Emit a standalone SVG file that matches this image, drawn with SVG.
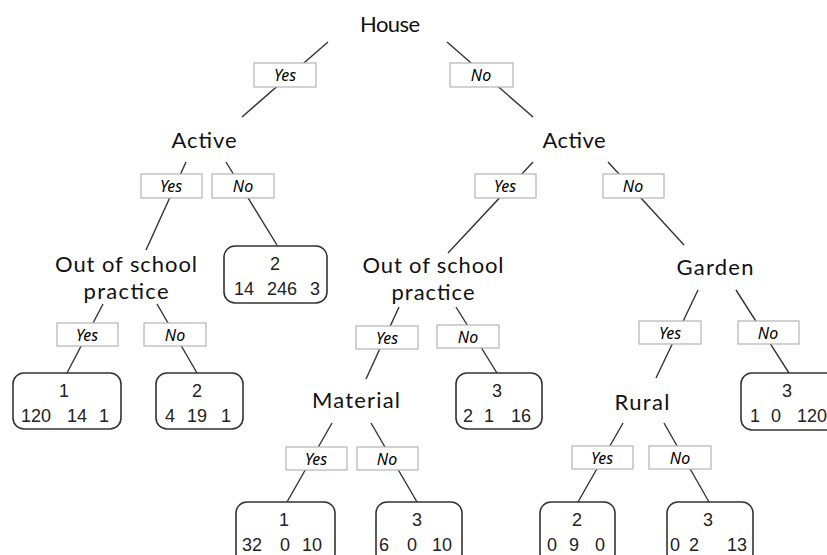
<svg xmlns="http://www.w3.org/2000/svg" width="827" height="555" viewBox="0 0 827 555">
<style>
.node{font-family:Lato,"Noto Sans",sans-serif;font-size:22px;fill:#111;text-anchor:middle}
.lbl rect{fill:#fff;stroke:#b4b4b4;stroke-width:1.2}
.lbl text{font-family:"Noto Sans","Open Sans",sans-serif;font-style:italic;font-size:16px;fill:#000;text-anchor:middle}
.leaf rect{fill:#fff;stroke:#333;stroke-width:1.6}
.leaf text{font-family:"Liberation Sans",Arial,sans-serif;font-size:18px;fill:#222;text-anchor:middle}
.edges line{stroke:#333;stroke-width:1.4}
</style>
<rect width="827" height="555" fill="#fff"/>
<g id="connectors" class="edges">
<line x1="328" y1="42" x2="242" y2="117"/>
<line x1="447" y1="42" x2="533" y2="117"/>
<line x1="186" y1="162" x2="146" y2="250"/>
<line x1="226" y1="162" x2="277" y2="245"/>
<line x1="533" y1="162" x2="448" y2="253"/>
<line x1="608" y1="162" x2="684" y2="245"/>
<line x1="103" y1="304" x2="67" y2="373"/>
<line x1="157" y1="304" x2="197" y2="373"/>
<line x1="399" y1="307" x2="366" y2="379"/>
<line x1="456" y1="307" x2="497" y2="373"/>
<line x1="698" y1="290" x2="656" y2="378"/>
<line x1="736" y1="290" x2="789" y2="373"/>
<line x1="332" y1="423" x2="287" y2="502"/>
<line x1="371" y1="423" x2="417" y2="502"/>
<line x1="623" y1="423" x2="578" y2="502"/>
<line x1="664" y1="423" x2="709" y2="502"/>
</g>
<g id="edge-labels">
<g class="lbl"><rect x="254" y="63" width="62" height="24"/><text x="285" y="81">Yes</text></g>
<g class="lbl"><rect x="450" y="63" width="63" height="24"/><text x="481" y="81">No</text></g>
<g class="lbl"><rect x="141" y="174" width="61" height="24"/><text x="171" y="192">Yes</text></g>
<g class="lbl"><rect x="212" y="174" width="62" height="24"/><text x="243" y="192">No</text></g>
<g class="lbl"><rect x="475" y="174" width="61" height="24"/><text x="505" y="192">Yes</text></g>
<g class="lbl"><rect x="603" y="174" width="61" height="24"/><text x="633" y="192">No</text></g>
<g class="lbl"><rect x="57" y="323" width="61" height="23"/><text x="87" y="341">Yes</text></g>
<g class="lbl"><rect x="144" y="323" width="62" height="23"/><text x="175" y="341">No</text></g>
<g class="lbl"><rect x="356" y="326" width="62" height="23"/><text x="387" y="344">Yes</text></g>
<g class="lbl"><rect x="437" y="325" width="62" height="23"/><text x="468" y="343">No</text></g>
<g class="lbl"><rect x="639" y="321" width="62" height="23"/><text x="670" y="339">Yes</text></g>
<g class="lbl"><rect x="738" y="321" width="61" height="23"/><text x="768" y="339">No</text></g>
<g class="lbl"><rect x="286" y="447" width="61" height="23"/><text x="316" y="465">Yes</text></g>
<g class="lbl"><rect x="357" y="447" width="61" height="23"/><text x="387" y="465">No</text></g>
<g class="lbl"><rect x="572" y="446" width="61" height="23"/><text x="602" y="464">Yes</text></g>
<g class="lbl"><rect x="649" y="446" width="62" height="23"/><text x="680" y="464">No</text></g>
</g>
<g id="n-house"><text class="node" x="390" y="32" textLength="60">House</text></g>
<g id="n-active-left"><text class="node" x="204" y="148" textLength="65">Active</text></g>
<g id="n-active-right"><text class="node" x="574" y="148" textLength="63">Active</text></g>
<g id="n-oosp-left"><text class="node" x="126" y="272" textLength="142">Out of school</text><text class="node" x="126" y="299" textLength="85">practice</text></g>
<g id="n-oosp-right"><text class="node" x="433" y="273" textLength="141">Out of school</text><text class="node" x="433" y="300" textLength="83">practice</text></g>
<g id="n-garden"><text class="node" x="715" y="275" textLength="77">Garden</text></g>
<g id="n-material"><text class="node" x="356" y="408" textLength="88">Material</text></g>
<g id="n-rural"><text class="node" x="642" y="410" textLength="55">Rural</text></g>
<g id="leaf-1" class="leaf"><rect x="13" y="373" width="108" height="56" rx="11"/><text x="64" y="397">1</text><text y="422"><tspan x="36">120</tspan><tspan x="77">14</tspan><tspan x="104">1</tspan></text></g>
<g id="leaf-2" class="leaf"><rect x="156" y="373" width="87" height="56" rx="11"/><text x="197" y="397">2</text><text y="422"><tspan x="170">4</tspan><tspan x="197">19</tspan><tspan x="226">1</tspan></text></g>
<g id="leaf-3" class="leaf"><rect x="224" y="246" width="103" height="57" rx="11"/><text x="275" y="270">2</text><text y="295"><tspan x="244">14</tspan><tspan x="282">246</tspan><tspan x="315">3</tspan></text></g>
<g id="leaf-4" class="leaf"><rect x="456" y="373" width="86" height="56" rx="11"/><text x="497" y="397">3</text><text y="422"><tspan x="468">2</tspan><tspan x="489">1</tspan><tspan x="521">16</tspan></text></g>
<g id="leaf-5" class="leaf"><rect x="741" y="373" width="100" height="57" rx="11"/><text x="787" y="397">3</text><text y="422"><tspan x="755">1</tspan><tspan x="776">0</tspan><tspan x="812">120</tspan></text></g>
<g id="leaf-6" class="leaf"><rect x="236" y="502" width="99" height="62" rx="11"/><text x="284" y="526">1</text><text y="551"><tspan x="252">32</tspan><tspan x="285">0</tspan><tspan x="312">10</tspan></text></g>
<g id="leaf-7" class="leaf"><rect x="376" y="502" width="86" height="62" rx="11"/><text x="417" y="526">3</text><text y="551"><tspan x="384">6</tspan><tspan x="412">0</tspan><tspan x="442">10</tspan></text></g>
<g id="leaf-8" class="leaf"><rect x="540" y="502" width="75" height="62" rx="11"/><text x="577" y="526">2</text><text y="551"><tspan x="552">0</tspan><tspan x="574">9</tspan><tspan x="600">0</tspan></text></g>
<g id="leaf-9" class="leaf"><rect x="667" y="502" width="86" height="62" rx="11"/><text x="708" y="526">3</text><text y="551"><tspan x="675">0</tspan><tspan x="694">2</tspan><tspan x="737">13</tspan></text></g>
</svg>
